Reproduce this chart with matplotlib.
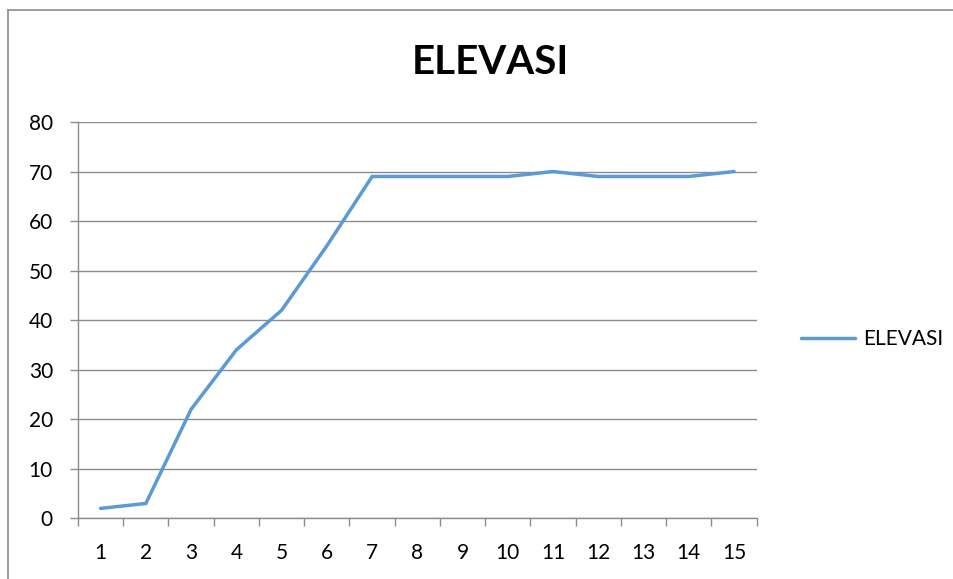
import matplotlib
matplotlib.use("Agg")
import matplotlib.pyplot as plt
from matplotlib.lines import Line2D
import numpy as np

categories = [str(i) for i in range(1, 16)]
elevasi = [2, 3, 22, 34, 42, 55, 69, 69, 69, 69, 70, 69, 69, 69, 70]
y_ticks = [0, 10, 20, 30, 40, 50, 60, 70, 80]

plt.rcParams['font.family'] = ['Lato', 'DejaVu Sans']

fig = plt.figure(figsize=(9.54, 5.79), dpi=100)
fig.patch.set_facecolor('white')
bx, by = 8.5/954, 1 - 10/579
fig.lines.append(Line2D([bx, 1.0], [by, by], transform=fig.transFigure, color='#8c8c8c', linewidth=1.2))
fig.lines.append(Line2D([bx, bx], [0.0, by], transform=fig.transFigure, color='#8c8c8c', linewidth=1.2))

ax = fig.add_axes([78/954, 1 - 518.3/579, (756.7 - 78)/954, (518.3 - 122)/579])
x = np.arange(1, len(categories) + 1)
line, = ax.plot(x, elevasi, color='#5B9BD5', linewidth=2.5, solid_capstyle='round',
                solid_joinstyle='miter', label='ELEVASI', zorder=3)

ax.set_xlim(0.5, len(categories) + 0.5)
ax.set_ylim(0, 80)
ax.set_yticks(y_ticks)
ax.set_yticklabels([str(v) for v in y_ticks], fontsize=15)
ax.yaxis.grid(True, color='#8c8c8c', linewidth=1.0)
ax.set_axisbelow(True)

ax.set_xticks(np.arange(0.5, len(categories) + 1, 1.0))
ax.set_xticklabels([])
ax.set_xticks(x, minor=True)
ax.set_xticklabels(categories, minor=True, fontsize=15)
ax.tick_params(axis='x', which='major', length=6, color='#8c8c8c', width=1.0, direction='out')
ax.tick_params(axis='x', which='minor', length=0, pad=18)
ax.tick_params(axis='y', length=6, color='#8c8c8c', width=1.0, pad=12)

for s in ['top', 'right']:
    ax.spines[s].set_visible(False)
for s in ['left', 'bottom']:
    ax.spines[s].set_color('#8c8c8c')
    ax.spines[s].set_linewidth(1.0)

fig.text(490/954, 1 - 62/579, 'ELEVASI', ha='center', va='center', fontsize=29, fontweight='bold')

fig.legend(handles=[line], loc='center left', bbox_to_anchor=(782/954, 1 - 339/579),
           frameon=False, fontsize=15, handlelength=2.6, handletextpad=0.4)

fig.savefig('out.png', dpi=100)
